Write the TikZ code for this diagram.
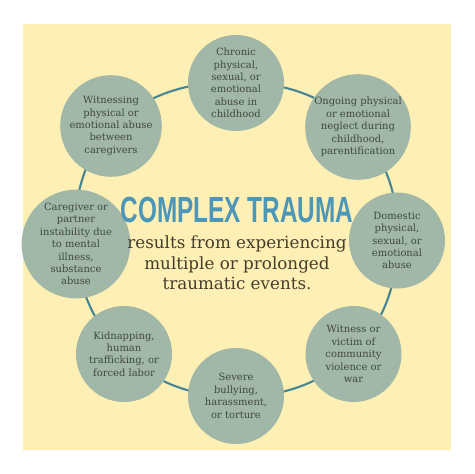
\documentclass[tikz,border=0pt]{standalone}
\usepackage{fontspec}
\setmainfont{DejaVu Serif}
\newfontfamily\titlefont{Liberation Sans}
\usetikzlibrary{backgrounds}

\definecolor{paper}{RGB}{254,239,180}
\definecolor{sage}{RGB}{161,183,167}
\definecolor{ringline}{RGB}{70,133,150}
\definecolor{titleblue}{RGB}{76,150,184}
\definecolor{inktext}{RGB}{64,72,66}
\definecolor{bodytext}{RGB}{68,62,46}

\tikzset{
  trauma/.style={circle, fill=sage, minimum size=2.88cm, inner sep=0pt,
                 align=center, text=inktext,
                 font=\fontsize{8.5}{10.6}\selectfont},
  ring/.style={draw=ringline, line width=1.8pt, bend left=22.5, looseness=0.9},
  headline/.style={text=titleblue, font=\titlefont\bfseries\fontsize{31}{31}\selectfont},
  summary/.style={align=center, text=bodytext, font=\fontsize{14.3}{17.4}\selectfont},
}

\begin{document}
\begin{tikzpicture}[x=0.03cm, y=0.03cm]

\useasboundingbox (0,0) rectangle (474,474);

% circles of the ring
\node[trauma] (chronic) at (236,391) {Chronic\\physical,\\sexual, or\\emotional\\abuse in\\childhood};
\node[trauma] (neglect) at (358,347) {Ongoing physical\\or emotional\\neglect during\\childhood,\\parentification};
\node[trauma] (domestic) at (397,233.5) {Domestic\\physical,\\sexual, or\\emotional\\abuse};
\node[trauma] (community) at (353.5,120) {Witness or\\victim of\\community\\violence or\\war};
\node[trauma] (bullying) at (236,78) {Severe\\bullying,\\harassment,\\or torture};
\node[trauma] (kidnap) at (124,120) {Kidnapping,\\human\\trafficking, or\\forced labor};
\node[trauma] (instability) at (76,230) {Caregiver or\\partner\\instability due\\to mental\\illness,\\substance\\abuse};
\node[trauma] (witnessing) at (111,348) {Witnessing\\physical or\\emotional abuse\\between\\caregivers};

% centre text
\node[headline] (title) at (237,264) {\scalebox{0.67}[1]{COMPLEX TRAUMA}};
\node[summary] (summary) at (237,211) {results from experiencing\\multiple or prolonged\\traumatic events.};

\begin{scope}[on background layer]
\fill[white] (0,0) rectangle (474,474);
\fill[paper] (23,24) rectangle (451,450);
\foreach \a/\b in {chronic/neglect, neglect/domestic, domestic/community,
                   community/bullying, bullying/kidnap, kidnap/instability,
                   instability/witnessing, witnessing/chronic}
  \draw[ring] (\a.center) to (\b.center);
\end{scope}

\end{tikzpicture}
\end{document}
